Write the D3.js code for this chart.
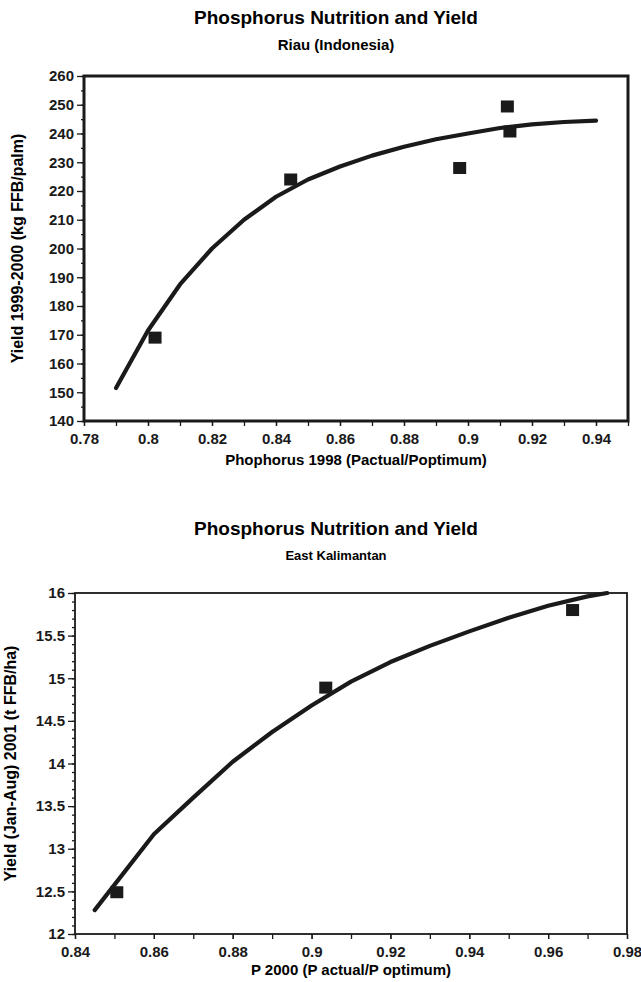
<!DOCTYPE html>
<html>
<head>
<meta charset="utf-8">
<script src="https://cdn.jsdelivr.net/npm/d3@7"></script>
<style>
  body { margin: 0; background: #fff; }
  svg { font-family: "Liberation Sans", Arial, sans-serif; font-weight: bold; }
</style>
</head>
<body>
<svg width="641" height="982"></svg>
<script>
// --- Riau (Indonesia) ---
const riauPointsX = [0.8022, 0.8446, 0.8974, 0.9123, 0.9131];
const riauPointsY = [169.0, 224.0, 228.0, 249.4, 240.7];
const riauCurveX = [0.79, 0.80, 0.81, 0.82, 0.83, 0.84, 0.85, 0.86, 0.87, 0.88, 0.89, 0.90, 0.91, 0.92, 0.93, 0.94];
const riauCurveY = [151.5, 171.5, 187.5, 200, 210, 218, 224, 228.5, 232.3, 235.4, 238, 240, 241.9, 243.2, 244, 244.5];
const riauXTicks = [0.78, 0.8, 0.82, 0.84, 0.86, 0.88, 0.9, 0.92, 0.94];
const riauYTicks = [140, 150, 160, 170, 180, 190, 200, 210, 220, 230, 240, 250, 260];

// --- East Kalimantan ---
const kalPointsX = [0.8506, 0.9036, 0.9662];
const kalPointsY = [12.49, 14.89, 15.80];
const kalCurveX = [0.845, 0.86, 0.87, 0.88, 0.89, 0.90, 0.91, 0.92, 0.93, 0.94, 0.95, 0.96, 0.97, 0.975];
const kalCurveY = [12.28, 13.17, 13.6, 14.02, 14.37, 14.68, 14.96, 15.19, 15.38, 15.55, 15.71, 15.85, 15.96, 16.0];
const kalXTicks = [0.84, 0.86, 0.88, 0.9, 0.92, 0.94, 0.96, 0.98];
const kalYTicks = [12, 12.5, 13, 13.5, 14, 14.5, 15, 15.5, 16];

const svg = d3.select('svg');

function drawChart(o) {
  const x = d3.scaleLinear().domain(o.xDomain).range([o.left, o.right]);
  const y = d3.scaleLinear().domain(o.yDomain).range([o.bottom, o.top]);
  const g = svg.append('g');

  g.append('text').attr('x', o.titleX).attr('y', o.titleY)
    .attr('text-anchor', 'middle').attr('font-size', 19)
    .text('Phosphorus Nutrition and Yield');
  g.append('text').attr('x', o.titleX).attr('y', o.subY)
    .attr('text-anchor', 'middle').attr('font-size', o.subSize)
    .text(o.subtitle);

  // minor ticks
  const yAxisMinor = d3.axisLeft(y).tickValues(d3.range(o.yDomain[0], o.yDomain[1] + 1e-9, o.yMinor))
    .tickSize(3).tickFormat('');
  g.append('g').attr('transform', `translate(${o.left},0)`).call(yAxisMinor)
    .call(a => a.select('.domain').remove());
  const xAxisMinor = d3.axisBottom(x).tickValues(d3.range(o.xDomain[0], o.xDomain[1] + 1e-9, 0.01))
    .tickSize(5).tickFormat('');
  g.append('g').attr('transform', `translate(0,${o.bottom})`).call(xAxisMinor)
    .call(a => a.select('.domain').remove());

  // major ticks + labels
  g.append('g').attr('transform', `translate(${o.left},0)`)
    .call(d3.axisLeft(y).tickValues(o.yTicks).tickSize(7).tickPadding(3).tickFormat(d3.format('')))
    .call(a => a.select('.domain').remove())
    .call(a => a.selectAll('text').attr('font-size', 15).attr('fill', '#1a1a1a'));
  g.append('g').attr('transform', `translate(0,${o.bottom})`)
    .call(d3.axisBottom(x).tickValues(o.xTicks).tickSize(5).tickPadding(7).tickFormat(d3.format('')))
    .call(a => a.select('.domain').remove())
    .call(a => a.selectAll('text').attr('font-size', 15).attr('fill', '#1a1a1a'));
  g.selectAll('.tick line').attr('stroke', '#1a1a1a').attr('stroke-width', 1.3);

  // frame
  g.append('rect').attr('x', o.left).attr('y', o.top)
    .attr('width', o.right - o.left).attr('height', o.bottom - o.top)
    .attr('fill', 'none').attr('stroke', '#1a1a1a').attr('stroke-width', o.frameW);

  // axis titles
  g.append('text').attr('x', (o.left + o.right) / 2).attr('y', o.xTitleY)
    .attr('text-anchor', 'middle').attr('font-size', 15).text(o.xTitle);
  g.append('text')
    .attr('transform', `translate(${o.yTitleX},${(o.top + o.bottom) / 2}) rotate(-90)`)
    .attr('text-anchor', 'middle').attr('font-size', 16).text(o.yTitle);

  // fitted curve
  const line = d3.line().x(d => x(d[0])).y(d => y(d[1]));
  g.append('path').datum(d3.zip(o.curveX, o.curveY))
    .attr('d', line).attr('fill', 'none').attr('stroke', '#1a1a1a')
    .attr('stroke-width', 4.2).attr('stroke-linecap', 'round').attr('stroke-linejoin', 'round');

  // observed points
  g.selectAll('.pt').data(d3.zip(o.ptX, o.ptY)).enter().append('rect')
    .attr('class', 'pt')
    .attr('x', d => x(d[0]) - 6.5).attr('y', d => y(d[1]) - 6)
    .attr('width', 13).attr('height', 12).attr('fill', '#1a1a1a');
}

drawChart({
  left: 84, right: 628, top: 76, bottom: 421,
  xDomain: [0.78, 0.95], yDomain: [140, 260], yMinor: 5,
  xTicks: riauXTicks, yTicks: riauYTicks,
  curveX: riauCurveX, curveY: riauCurveY, ptX: riauPointsX, ptY: riauPointsY,
  titleX: 336, titleY: 24, subY: 50, subSize: 15, subtitle: 'Riau (Indonesia)',
  xTitle: 'Phophorus 1998 (Pactual/Poptimum)', xTitleY: 465,
  yTitle: 'Yield  1999-2000 (kg FFB/palm)', yTitleX: 23, frameW: 3
});

drawChart({
  left: 75, right: 627, top: 593, bottom: 934,
  xDomain: [0.84, 0.98], yDomain: [12, 16], yMinor: 0.1,
  xTicks: kalXTicks, yTicks: kalYTicks,
  curveX: kalCurveX, curveY: kalCurveY, ptX: kalPointsX, ptY: kalPointsY,
  titleX: 336, titleY: 535, subY: 560, subSize: 13, subtitle: 'East Kalimantan',
  xTitle: 'P 2000 (P actual/P optimum)', xTitleY: 975,
  yTitle: 'Yield (Jan-Aug) 2001 (t FFB/ha)', yTitleX: 16, frameW: 1.8
});
</script>
</body>
</html>
